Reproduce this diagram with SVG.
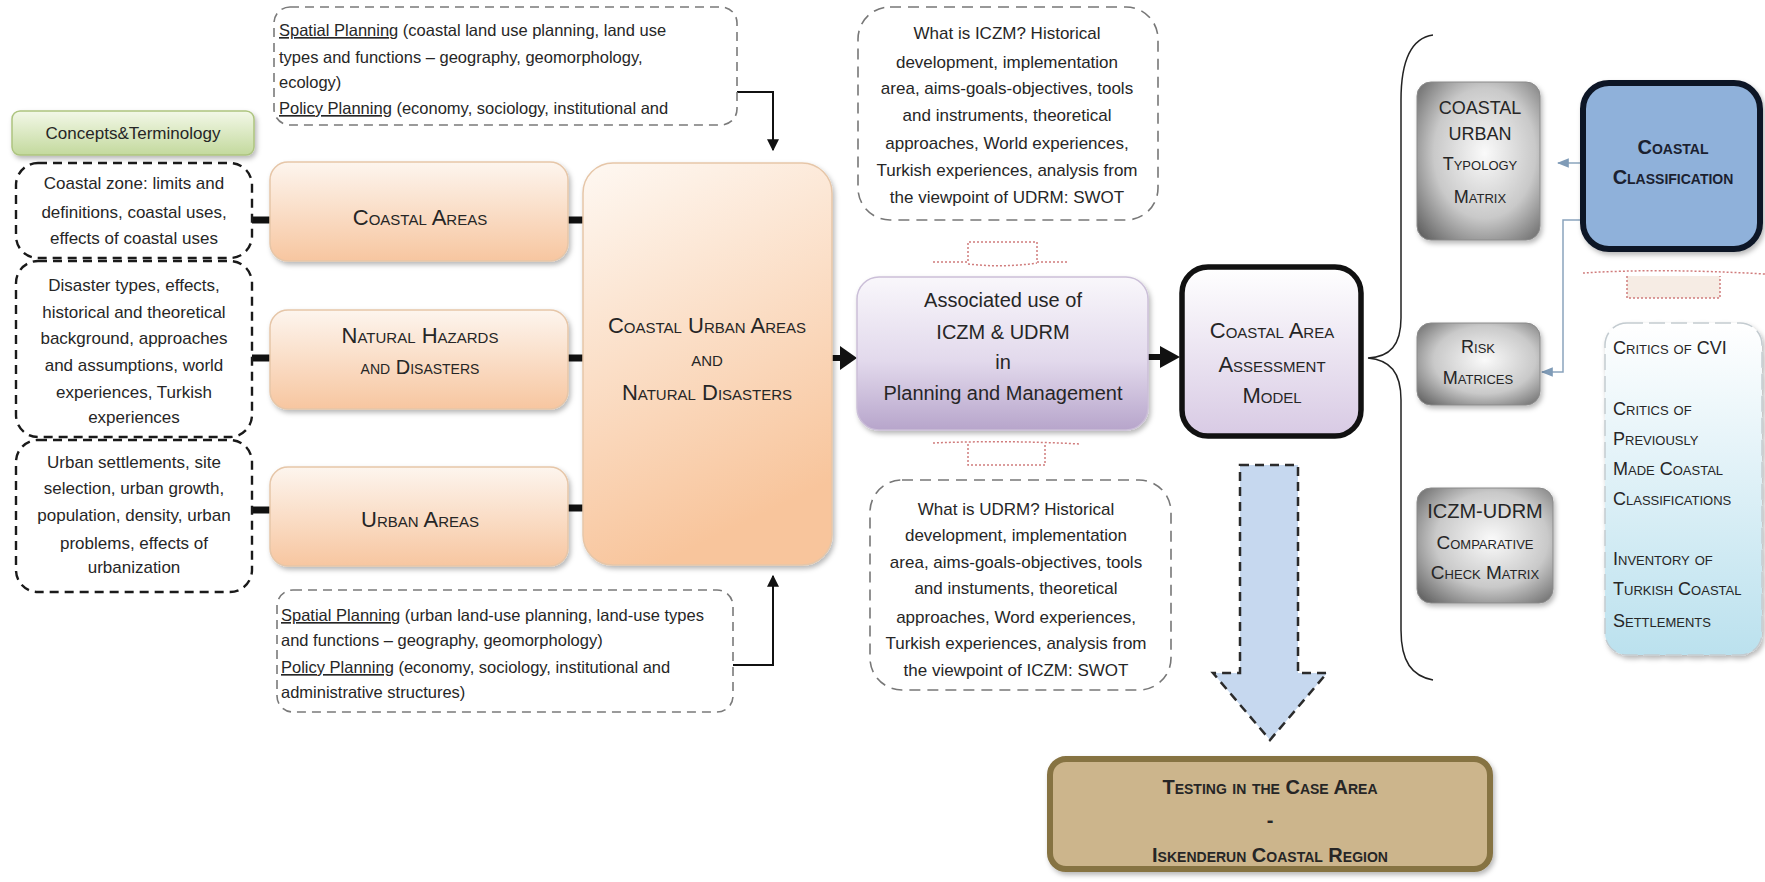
<svg xmlns="http://www.w3.org/2000/svg" width="1765" height="882" viewBox="0 0 1765 882">
  <defs>
    <style>
      text { font-family: "Liberation Sans", "DejaVu Sans", sans-serif; fill: #262626; }
      .note { font-size: 17px; text-anchor: middle; }
      .plan { font-size: 16.5px; }
      .iczm { font-size: 17px; text-anchor: middle; }
      .sc { font-variant: small-caps; text-anchor: middle; }
      .lbl { font-size: 22px; }
      .gray { font-size: 18px; }
      .crit { font-size: 18px; font-variant: small-caps; }
      .u { text-decoration: underline; }
      .dashDark { fill: #ffffff; stroke: #1a1a1a; stroke-width: 2.4; stroke-dasharray: 9 6; }
      .dashLight { fill: #ffffff; stroke: #7a7a7a; stroke-width: 1.6; stroke-dasharray: 9 6; }
      .orange { fill: url(#gOrange); stroke: #e6c6a8; stroke-width: 1.5; filter: url(#shadow); }
      .grayBox { fill: url(#gGray); stroke: #8a8a8a; stroke-width: 1; filter: url(#shadow); }
      .bar { stroke: #111; stroke-width: 7; }
      .thin { fill: none; stroke: #111; stroke-width: 2; }
      .pink { fill: none; stroke: #d07c7c; stroke-width: 1.5; stroke-dasharray: 2 2; }
      .blueLink { fill: none; stroke: #8aa4bd; stroke-width: 1.5; }
    </style>
    <linearGradient id="gOrange" x1="0" y1="0" x2="0" y2="1">
      <stop offset="0" stop-color="#fdf5ee"/>
      <stop offset="1" stop-color="#f7c6a0"/>
    </linearGradient>
    <linearGradient id="gBig" x1="0" y1="0" x2="0.3" y2="1">
      <stop offset="0" stop-color="#fef8f2"/>
      <stop offset="1" stop-color="#f8c59c"/>
    </linearGradient>
    <linearGradient id="gPurple" x1="0" y1="0" x2="0" y2="1">
      <stop offset="0" stop-color="#f9f7fb"/>
      <stop offset="0.55" stop-color="#e2d9ec"/>
      <stop offset="1" stop-color="#b7a5cb"/>
    </linearGradient>
    <linearGradient id="gAssess" x1="0" y1="0" x2="0" y2="1">
      <stop offset="0" stop-color="#ffffff"/>
      <stop offset="1" stop-color="#d8cae4"/>
    </linearGradient>
    <radialGradient id="gGray" cx="0.55" cy="0.45" r="0.75">
      <stop offset="0" stop-color="#fafafa"/>
      <stop offset="0.55" stop-color="#c9c9c9"/>
      <stop offset="1" stop-color="#5c5c5c"/>
    </radialGradient>
    <linearGradient id="gGreen" x1="0" y1="0" x2="0" y2="1">
      <stop offset="0" stop-color="#f3f8e8"/>
      <stop offset="1" stop-color="#c3d99d"/>
    </linearGradient>
    <linearGradient id="gCritics" x1="0" y1="0" x2="0" y2="1">
      <stop offset="0" stop-color="#ffffff"/>
      <stop offset="1" stop-color="#bbe1ee"/>
    </linearGradient>
    <filter id="shadow" x="-10%" y="-10%" width="125%" height="130%">
      <feDropShadow dx="2" dy="3" stdDeviation="2.5" flood-color="#000" flood-opacity="0.28"/>
    </filter>
    <marker id="arrBlack" viewBox="0 0 10 10" refX="9" refY="5" markerWidth="12" markerHeight="12" markerUnits="userSpaceOnUse" orient="auto">
      <path d="M0,0 L10,5 L0,10 z" fill="#111"/>
    </marker>
    <marker id="arrBlue" viewBox="0 0 10 10" refX="9" refY="5" markerWidth="12" markerHeight="12" markerUnits="userSpaceOnUse" orient="auto">
      <path d="M0,1 L10,5 L0,9 z" fill="#7f9bb7"/>
    </marker>
  </defs>

  <rect width="1765" height="882" fill="#ffffff"/>

  <!-- connectors -->
  <g id="connectors">
    <line class="bar" x1="252" y1="220" x2="271" y2="220"/>
    <line class="bar" x1="252" y1="358" x2="271" y2="358"/>
    <line class="bar" x1="252" y1="510" x2="271" y2="510"/>
    <line class="bar" x1="567" y1="220" x2="584" y2="220"/>
    <line class="bar" x1="567" y1="358" x2="584" y2="358"/>
    <line class="bar" x1="567" y1="508" x2="584" y2="508"/>
    <path class="thin" d="M737,92 H773 V150" marker-end="url(#arrBlack)"/>
    <path class="thin" d="M733,665 H773 V576" marker-end="url(#arrBlack)"/>
    <line x1="832" y1="358" x2="842" y2="358" stroke="#111" stroke-width="6"/>
    <polygon points="840,346 857,358 840,370" fill="#111"/>
    <line x1="1148" y1="357" x2="1162" y2="357" stroke="#111" stroke-width="6"/>
    <polygon points="1160,346 1180,357 1160,368" fill="#111"/>
    <path class="pink" d="M933,262 H968 V242 H1037 V262 H1068"/>
    <path class="pink" d="M968,264 Q1003,268 1037,263"/>
    <path class="pink" d="M933,443 Q1005,440 1080,444"/>
    <path class="pink" d="M968,444 V465 H1045 V444"/>
    <path d="M1627,276 V298 H1720 V276" fill="#f6ece4" stroke="#d07c7c" stroke-width="1.5" stroke-dasharray="2 2"/>
    <path class="pink" d="M1583,273 Q1660,268 1765,274"/>
    <path d="M1240,465 H1298 V673 H1327 L1270,740 L1213,673 H1240 Z" fill="#c6d8ef" stroke="#2b2b2b" stroke-width="2.5" stroke-dasharray="9 6"/>
    <path d="M1433,35 C1412,38 1401,60 1401,100 L1401,318 C1401,345 1390,357 1368,358 C1390,360 1401,372 1401,400 L1401,630 C1401,662 1412,676 1433,680" fill="none" stroke="#222" stroke-width="1.5"/>
    <line class="blueLink" x1="1580" y1="163" x2="1558" y2="163" marker-end="url(#arrBlue)"/>
    <path class="blueLink" d="M1580,220 H1563 V372 H1542" marker-end="url(#arrBlue)"/>
  </g>

  <!-- left column -->
  <g id="concepts">
    <rect x="12" y="111" width="242" height="44" rx="8" fill="url(#gGreen)" stroke="#adc47f" stroke-width="1.5" filter="url(#shadow)"/>
    <text x="133" y="139" style="font-size:17px;text-anchor:middle">Concepts&amp;Terminology</text>
  </g>
  <g id="note-coastal-zone">
    <rect class="dashDark" x="16" y="163" width="236" height="95" rx="22"/>
    <text class="note" x="134" y="189">Coastal zone: limits and</text>
    <text class="note" x="134" y="218">definitions, coastal uses,</text>
    <text class="note" x="134" y="244">effects of coastal uses</text>
  </g>
  <g id="note-disasters">
    <rect class="dashDark" x="16" y="261" width="236" height="176" rx="22"/>
    <text class="note" x="134" y="291">Disaster types, effects,</text>
    <text class="note" x="134" y="318">historical and theoretical</text>
    <text class="note" x="134" y="344">background, approaches</text>
    <text class="note" x="134" y="371">and assumptions, world</text>
    <text class="note" x="134" y="398">experiences, Turkish</text>
    <text class="note" x="134" y="423">experiences</text>
  </g>
  <g id="note-urban">
    <rect class="dashDark" x="16" y="440" width="236" height="152" rx="22"/>
    <text class="note" x="134" y="468">Urban settlements, site</text>
    <text class="note" x="134" y="494">selection, urban growth,</text>
    <text class="note" x="134" y="521">population, density, urban</text>
    <text class="note" x="134" y="549">problems, effects of</text>
    <text class="note" x="134" y="573">urbanization</text>
  </g>

  <g id="coastal-areas">
    <rect class="orange" x="270" y="162" width="298" height="99" rx="18"/>
    <text class="sc lbl" x="420" y="225">Coastal Areas</text>
  </g>
  <g id="natural-hazards">
    <rect class="orange" x="270" y="310" width="298" height="99" rx="18"/>
    <text class="sc lbl" x="420" y="343">Natural Hazards</text>
    <text class="sc" x="420" y="374" style="font-size:20px">and Disasters</text>
  </g>
  <g id="urban-areas">
    <rect class="orange" x="270" y="467" width="298" height="99" rx="18"/>
    <text class="sc lbl" x="420" y="527">Urban Areas</text>
  </g>

  <g id="coastal-urban-natural">
    <rect x="583" y="163" width="249" height="402" rx="30" fill="url(#gBig)" stroke="#e6c6a8" stroke-width="1.5" filter="url(#shadow)"/>
    <text class="sc lbl" x="707" y="333">Coastal Urban Areas</text>
    <text class="sc lbl" x="707" y="366">and</text>
    <text class="sc lbl" x="707" y="400">Natural Disasters</text>
  </g>

  <g id="planning-coastal">
    <rect class="dashLight" x="274" y="7" width="463" height="118" rx="16"/>
    <text class="plan" x="279" y="36"><tspan class="u">Spatial Planning</tspan> (coastal land use planning, land use</text>
    <text class="plan" x="279" y="63">types and functions  – geography, geomorphology,</text>
    <text class="plan" x="279" y="88">ecology)</text>
    <text class="plan" x="279" y="114"><tspan class="u">Policy Planning</tspan> (economy, sociology, institutional and</text>
  </g>
  <g id="planning-urban">
    <rect class="dashLight" x="277" y="590" width="456" height="122" rx="16"/>
    <text class="plan" x="281" y="621"><tspan class="u">Spatial Planning</tspan> (urban land-use planning, land-use types</text>
    <text class="plan" x="281" y="646">and functions – geography, geomorphology)</text>
    <text class="plan" x="281" y="673"><tspan class="u">Policy Planning</tspan> (economy, sociology, institutional and</text>
    <text class="plan" x="281" y="698">administrative structures)</text>
  </g>

  <!-- centre -->
  <g id="iczm-notes">
    <rect x="858" y="7" width="300" height="213" rx="32" fill="#ffffff" stroke="#777" stroke-width="1.6" stroke-dasharray="11 7"/>
    <text class="iczm" x="1007" y="39">What is ICZM? Historical</text>
    <text class="iczm" x="1007" y="68">development, implementation</text>
    <text class="iczm" x="1007" y="94">area, aims-goals-objectives, tools</text>
    <text class="iczm" x="1007" y="121">and instruments, theoretical</text>
    <text class="iczm" x="1007" y="149">approaches, World experiences,</text>
    <text class="iczm" x="1007" y="176">Turkish experiences, analysis from</text>
    <text class="iczm" x="1007" y="203">the viewpoint of UDRM: SWOT</text>
  </g>
  <g id="associated-use">
    <rect x="857" y="277" width="291" height="153" rx="22" fill="url(#gPurple)" stroke="#cbbfd8" stroke-width="1.5" filter="url(#shadow)"/>
    <text x="1003" y="307" style="font-size:20px;text-anchor:middle">Associated use of</text>
    <text x="1003" y="339" style="font-size:20px;text-anchor:middle">ICZM &amp; UDRM</text>
    <text x="1003" y="369" style="font-size:20px;text-anchor:middle">in</text>
    <text x="1003" y="400" style="font-size:20px;text-anchor:middle">Planning and Management</text>
  </g>
  <g id="udrm-notes">
    <rect x="870" y="480" width="301" height="210" rx="32" fill="#ffffff" stroke="#777" stroke-width="1.6" stroke-dasharray="11 7"/>
    <text class="iczm" x="1016" y="515">What is UDRM? Historical</text>
    <text class="iczm" x="1016" y="541">development, implementation</text>
    <text class="iczm" x="1016" y="568">area, aims-goals-objectives, tools</text>
    <text class="iczm" x="1016" y="594">and instuments, theoretical</text>
    <text class="iczm" x="1016" y="623">approaches, Word experiences,</text>
    <text class="iczm" x="1016" y="649">Turkish experiences, analysis from</text>
    <text class="iczm" x="1016" y="676">the viewpoint of ICZM: SWOT</text>
  </g>

  <g id="assessment-model">
    <rect x="1182" y="267" width="179" height="169" rx="26" fill="url(#gAssess)" stroke="#111" stroke-width="5.5"/>
    <text class="sc lbl" x="1272" y="338">Coastal Area</text>
    <text class="sc lbl" x="1272" y="372">Assessment</text>
    <text class="sc lbl" x="1272" y="403">Model</text>
  </g>

  <g id="case-area">
    <rect x="1050" y="759" width="440" height="110" rx="16" fill="#ccb58c" stroke="#867343" stroke-width="6" filter="url(#shadow)"/>
    <text class="sc" x="1270" y="794" style="font-size:20px;font-weight:bold">Testing in the Case Area</text>
    <text class="sc" x="1270" y="827" style="font-size:20px;font-weight:bold">-</text>
    <text class="sc" x="1270" y="862" style="font-size:20px;font-weight:bold">Iskenderun Coastal Region</text>
  </g>

  <!-- right side -->
  <g id="typology-matrix">
    <rect class="grayBox" x="1417" y="82" width="123" height="158" rx="14"/>
    <text class="gray" x="1480" y="114" text-anchor="middle">COASTAL</text>
    <text class="gray" x="1480" y="140" text-anchor="middle">URBAN</text>
    <text class="gray sc" x="1480" y="170">Typology</text>
    <text class="gray sc" x="1480" y="203">Matrix</text>
  </g>
  <g id="risk-matrices">
    <rect class="grayBox" x="1417" y="323" width="123" height="82" rx="14"/>
    <text class="gray sc" x="1478" y="353">Risk</text>
    <text class="gray sc" x="1478" y="384">Matrices</text>
  </g>
  <g id="comparative-matrix">
    <rect class="grayBox" x="1417" y="488" width="136" height="115" rx="14"/>
    <text x="1485" y="518" style="font-size:20px;text-anchor:middle">ICZM-UDRM</text>
    <text class="sc" x="1485" y="549" style="font-size:19px">Comparative</text>
    <text class="sc" x="1485" y="579" style="font-size:19px">Check Matrix</text>
  </g>
  <g id="coastal-classification">
    <rect x="1583" y="83" width="177" height="166" rx="26" fill="#8fb1da" stroke="#0e1727" stroke-width="6" filter="url(#shadow)"/>
    <text class="sc" x="1673" y="154" style="font-size:20px;font-weight:bold;fill:#1b2130">Coastal</text>
    <text class="sc" x="1673" y="184" style="font-size:20px;font-weight:bold;fill:#1b2130">Classification</text>
  </g>
  <g id="critics">
    <rect x="1605" y="323" width="157" height="332" rx="22" fill="url(#gCritics)" stroke="#c3cbd0" stroke-width="1.5" stroke-dasharray="16 6" filter="url(#shadow)"/>
    <text class="crit" x="1613" y="354">Critics of CVI</text>
    <text class="crit" x="1613" y="415">Critics of</text>
    <text class="crit" x="1613" y="445">Previously</text>
    <text class="crit" x="1613" y="475">Made Coastal</text>
    <text class="crit" x="1613" y="505">Classifications</text>
    <text class="crit" x="1613" y="565">Inventory of</text>
    <text class="crit" x="1613" y="595">Turkish Coastal</text>
    <text class="crit" x="1613" y="627">Settlements</text>
  </g>
</svg>
